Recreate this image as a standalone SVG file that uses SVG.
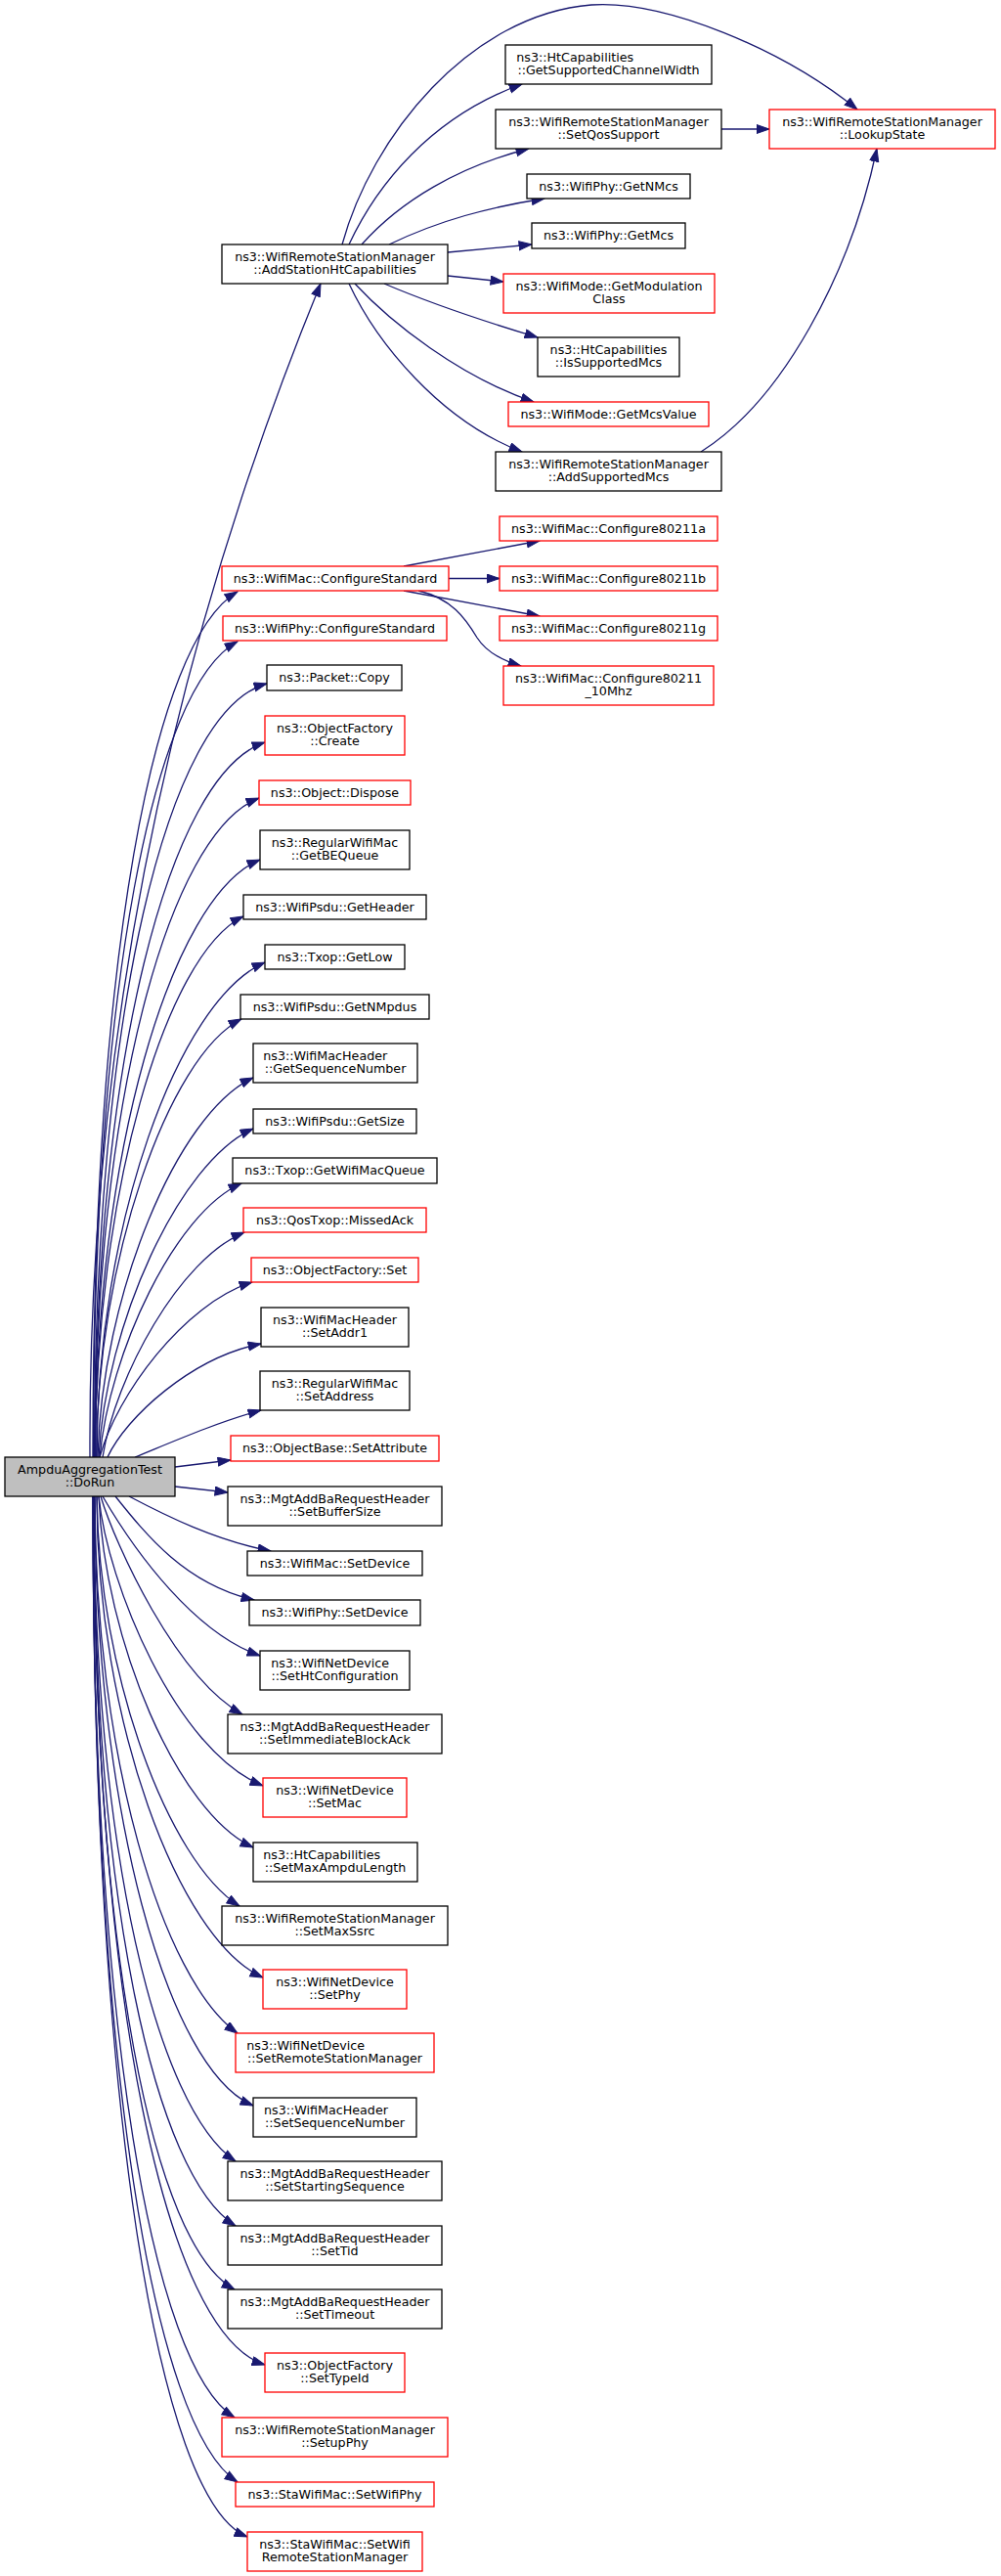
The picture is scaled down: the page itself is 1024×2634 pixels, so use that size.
<svg xmlns="http://www.w3.org/2000/svg" width="1024" height="2634" viewBox="0 0 1024 2634">
<defs>
<style>
.n rect{fill:#fff;stroke:#000;stroke-width:1.3}
.r rect{stroke:#ff0000}
.root rect{fill:#bfbfbf;stroke:#000}
text{font-family:"DejaVu Sans","Liberation Sans",sans-serif;font-size:12.7px;text-anchor:middle;fill:#000}
text.l{text-anchor:start}
#edges path{fill:none;stroke:#191970;stroke-width:1.3;marker-end:url(#ah)}
</style>
<marker id="ah" markerUnits="userSpaceOnUse" markerWidth="15" markerHeight="11" viewBox="0 0 15 11" refX="13.5" refY="5" orient="auto">
<path d="M0.5,0.5 L13.5,5 L0.5,9.5 Z" fill="#191970" stroke="#191970" stroke-width="1"/>
</marker>
</defs>
<rect x="0" y="0" width="1024" height="2634" fill="#fff"/>
<g id="edges">
<path d="M350,250 C380,140 480,15 605,5 C680,0 800,50 877,112"/>
<path d="M357,250 C385,190 440,120 534,86"/>
<path d="M370,250 C410,205 470,170 541,152"/>
<path d="M398,250 C450,225 500,212 557,203"/>
<path d="M458,258 L544,250"/>
<path d="M458,282 L515,288"/>
<path d="M393,290 C440,310 500,330 550,345"/>
<path d="M363,290 C400,330 470,385 546,411"/>
<path d="M357,290 C385,350 450,430 534,462"/>
<path d="M738,132 L787,132"/>
<path d="M717,462 C800,410 870,280 897,152"/>
<path d="M413,579 L552,553"/>
<path d="M459,591.5 L511,591.5"/>
<path d="M413,604 L552,630"/>
<path d="M428,604 C462,612 476,632 488,652 C497,666 512,675 533,681"/>
<path d="M92,1490 C90,1100 160,700 328,290"/>
<path d="M95,1490 C95,977 157,655 243,605"/>
<path d="M95.5,1490 C95.5,1006 157.5,702 243,656"/>
<path d="M96.5,1490 C96.5,1034 171,727 273,699"/>
<path d="M97,1490 C97,1085 173,792 271,759"/>
<path d="M97,1490 C97,1131 172,852 265,816"/>
<path d="M97.5,1490 C97.5,1180 175,917 266,879"/>
<path d="M97.5,1490 C97.5,1222 169,976 249,937"/>
<path d="M99,1490 C99,1254 182,1023 271,984"/>
<path d="M98.6,1490 C98.6,1291 172,1080 247,1042"/>
<path d="M100,1490 C104,1326 181,1138 259,1102"/>
<path d="M101,1490 C108,1355 183,1188 259,1154"/>
<path d="M102,1490 C112,1383 179,1240 247,1210"/>
<path d="M105,1490 C118,1407 184,1287 250,1260"/>
<path d="M102,1490 C119,1427 188,1333 258,1311"/>
<path d="M110,1490 C129,1449 196,1388 267,1374"/>
<path d="M138,1490 C175,1475 220,1455 267,1442"/>
<path d="M179,1500 L236,1493"/>
<path d="M179,1520 L233,1526"/>
<path d="M132,1530 C170,1550 220,1575 277,1586"/>
<path d="M118,1530 C150,1570 190,1620 260,1636"/>
<path d="M105,1530 C140,1590 200,1670 266,1693"/>
<path d="M103,1530 C118,1580 180,1715 248,1753"/>
<path d="M101,1530 C110,1620 180,1790 269,1826"/>
<path d="M101,1530 C107,1678 182,1854 259,1889"/>
<path d="M99,1530 C101,1712 172,1903 245,1949"/>
<path d="M99,1530 C99,1757 182,1983 269,2022"/>
<path d="M97,1530 C97,1796 166,2024 243,2079"/>
<path d="M97,1530 C97,1849 171,2116 259,2153"/>
<path d="M96,1530 C96,1893 161,2156 241,2210"/>
<path d="M96,1530 C96,1947 159,2225 241,2276"/>
<path d="M96,1530 C96,2000 157,2296 240,2341"/>
<path d="M96,1530 C96,2045 170,2387 271,2418"/>
<path d="M95,1530 C95,2076 156,2419 240,2472"/>
<path d="M95,1530 C95,2115 157,2482 243,2538"/>
<path d="M95,1530 C95,2147 161,2557 253,2594"/>
</g>
<g id="n_root" class="n root"><rect x="5" y="1490" width="174" height="40"/><text x="92" y="1506.8">AmpduAggregationTest</text><text x="92" y="1520.3">::DoRun</text></g>
<g id="n_addstation" class="n"><rect x="227" y="250" width="231" height="40"/><text x="342.5" y="266.8">ns3::WifiRemoteStationManager</text><text x="342.5" y="280.3">::AddStationHtCapabilities</text></g>
<g id="n_getsupchw" class="n"><rect x="517" y="46" width="211" height="40"/><text class="l" x="528.3" y="62.8">ns3::HtCapabilities</text><text x="622.5" y="76.3">::GetSupportedChannelWidth</text></g>
<g id="n_setqos" class="n"><rect x="507" y="112" width="231" height="40"/><text x="622.5" y="128.8">ns3::WifiRemoteStationManager</text><text x="622.5" y="142.3">::SetQosSupport</text></g>
<g id="n_lookup" class="n r"><rect x="787" y="112" width="231" height="40"/><text x="902.5" y="128.8">ns3::WifiRemoteStationManager</text><text x="902.5" y="142.3">::LookupState</text></g>
<g id="n_getnmcs" class="n"><rect x="539" y="178" width="167" height="25"/><text x="622.5" y="194.8">ns3::WifiPhy::GetNMcs</text></g>
<g id="n_getmcs" class="n"><rect x="544" y="228" width="157" height="26"/><text x="622.5" y="245.3">ns3::WifiPhy::GetMcs</text></g>
<g id="n_getmod" class="n r"><rect x="515" y="280" width="216" height="40"/><text x="623" y="296.8">ns3::WifiMode::GetModulation</text><text x="623" y="310.3">Class</text></g>
<g id="n_issupmcs" class="n"><rect x="550" y="345" width="145" height="40"/><text x="622.5" y="361.8">ns3::HtCapabilities</text><text x="622.5" y="375.3">::IsSupportedMcs</text></g>
<g id="n_getmcsval" class="n r"><rect x="520" y="411" width="205" height="25"/><text x="622.5" y="427.8">ns3::WifiMode::GetMcsValue</text></g>
<g id="n_addsupmcs" class="n"><rect x="507" y="462" width="231" height="40"/><text x="622.5" y="478.8">ns3::WifiRemoteStationManager</text><text x="622.5" y="492.3">::AddSupportedMcs</text></g>
<g id="n_c11a" class="n r"><rect x="511" y="528" width="223" height="25"/><text x="622.5" y="544.8">ns3::WifiMac::Configure80211a</text></g>
<g id="n_c11b" class="n r"><rect x="511" y="579" width="223" height="25"/><text x="622.5" y="595.8">ns3::WifiMac::Configure80211b</text></g>
<g id="n_c11g" class="n r"><rect x="511" y="630" width="223" height="25"/><text x="622.5" y="646.8">ns3::WifiMac::Configure80211g</text></g>
<g id="n_c10mhz" class="n r"><rect x="515" y="681" width="215" height="40"/><text x="622.5" y="697.8">ns3::WifiMac::Configure80211</text><text x="622.5" y="711.3">_10Mhz</text></g>
<g id="n_macconf" class="n r"><rect x="227" y="579" width="232" height="25"/><text x="343" y="595.8">ns3::WifiMac::ConfigureStandard</text></g>
<g id="n_phyconf" class="n r"><rect x="228" y="630" width="229" height="25"/><text x="342.5" y="646.8">ns3::WifiPhy::ConfigureStandard</text></g>
<g id="n_copy" class="n"><rect x="273" y="680" width="138" height="26"/><text x="342" y="697.3">ns3::Packet::Copy</text></g>
<g id="n_create" class="n r"><rect x="271" y="732" width="143" height="40"/><text x="342.5" y="748.8">ns3::ObjectFactory</text><text x="342.5" y="762.3">::Create</text></g>
<g id="n_dispose" class="n r"><rect x="265" y="798" width="155" height="25"/><text x="342.5" y="814.8">ns3::Object::Dispose</text></g>
<g id="n_getbe" class="n"><rect x="266" y="849" width="153" height="40"/><text x="342.5" y="865.8">ns3::RegularWifiMac</text><text x="342.5" y="879.3">::GetBEQueue</text></g>
<g id="n_getheader" class="n"><rect x="249" y="915" width="187" height="25"/><text x="342.5" y="931.8">ns3::WifiPsdu::GetHeader</text></g>
<g id="n_getlow" class="n"><rect x="271" y="966" width="143" height="25"/><text x="342.5" y="982.8">ns3::Txop::GetLow</text></g>
<g id="n_getnmpdus" class="n"><rect x="246" y="1017" width="193" height="25"/><text x="342.5" y="1033.8">ns3::WifiPsdu::GetNMpdus</text></g>
<g id="n_getseq" class="n"><rect x="259" y="1067" width="168" height="40"/><text class="l" x="269.3" y="1083.8">ns3::WifiMacHeader</text><text x="343" y="1097.3">::GetSequenceNumber</text></g>
<g id="n_getsize" class="n"><rect x="259" y="1134" width="167" height="25"/><text x="342.5" y="1150.8">ns3::WifiPsdu::GetSize</text></g>
<g id="n_getqueue" class="n"><rect x="238" y="1184" width="209" height="26"/><text x="342.5" y="1201.3">ns3::Txop::GetWifiMacQueue</text></g>
<g id="n_missedack" class="n r"><rect x="249" y="1235" width="187" height="25"/><text x="342.5" y="1251.8">ns3::QosTxop::MissedAck</text></g>
<g id="n_ofset" class="n r"><rect x="257" y="1286" width="171" height="25"/><text x="342.5" y="1302.8">ns3::ObjectFactory::Set</text></g>
<g id="n_setaddr1" class="n"><rect x="267" y="1337" width="151" height="40"/><text x="342.5" y="1353.8">ns3::WifiMacHeader</text><text x="342.5" y="1367.3">::SetAddr1</text></g>
<g id="n_setaddress" class="n"><rect x="266" y="1402" width="153" height="40"/><text x="342.5" y="1418.8">ns3::RegularWifiMac</text><text x="342.5" y="1432.3">::SetAddress</text></g>
<g id="n_setattr" class="n r"><rect x="236" y="1468" width="213" height="26"/><text x="342.5" y="1485.3">ns3::ObjectBase::SetAttribute</text></g>
<g id="n_setbuf" class="n"><rect x="233" y="1520" width="219" height="40"/><text x="342.5" y="1536.8">ns3::MgtAddBaRequestHeader</text><text x="342.5" y="1550.3">::SetBufferSize</text></g>
<g id="n_macsetdev" class="n"><rect x="253" y="1586" width="179" height="25"/><text x="342.5" y="1602.8">ns3::WifiMac::SetDevice</text></g>
<g id="n_physetdev" class="n"><rect x="255" y="1636" width="175" height="26"/><text x="342.5" y="1653.3">ns3::WifiPhy::SetDevice</text></g>
<g id="n_setht" class="n"><rect x="266" y="1688" width="153" height="40"/><text class="l" x="277.3" y="1704.8">ns3::WifiNetDevice</text><text x="342.5" y="1718.3">::SetHtConfiguration</text></g>
<g id="n_setimm" class="n"><rect x="233" y="1753" width="219" height="40"/><text x="342.5" y="1769.8">ns3::MgtAddBaRequestHeader</text><text x="342.5" y="1783.3">::SetImmediateBlockAck</text></g>
<g id="n_setmac" class="n r"><rect x="269" y="1818" width="147" height="40"/><text x="342.5" y="1834.8">ns3::WifiNetDevice</text><text x="342.5" y="1848.3">::SetMac</text></g>
<g id="n_setampdu" class="n"><rect x="259" y="1884" width="168" height="40"/><text class="l" x="269.3" y="1900.8">ns3::HtCapabilities</text><text x="343" y="1914.3">::SetMaxAmpduLength</text></g>
<g id="n_setssrc" class="n"><rect x="227" y="1949" width="231" height="40"/><text x="342.5" y="1965.8">ns3::WifiRemoteStationManager</text><text x="342.5" y="1979.3">::SetMaxSsrc</text></g>
<g id="n_setphy" class="n r"><rect x="269" y="2014" width="147" height="40"/><text x="342.5" y="2030.8">ns3::WifiNetDevice</text><text x="342.5" y="2044.3">::SetPhy</text></g>
<g id="n_setrsm" class="n r"><rect x="241" y="2079" width="203" height="40"/><text class="l" x="252.3" y="2095.8">ns3::WifiNetDevice</text><text x="342.5" y="2109.3">::SetRemoteStationManager</text></g>
<g id="n_setseq" class="n"><rect x="259" y="2145" width="167" height="40"/><text class="l" x="270" y="2161.8">ns3::WifiMacHeader</text><text x="342.5" y="2175.3">::SetSequenceNumber</text></g>
<g id="n_setstart" class="n"><rect x="233" y="2210" width="219" height="40"/><text x="342.5" y="2226.8">ns3::MgtAddBaRequestHeader</text><text x="342.5" y="2240.3">::SetStartingSequence</text></g>
<g id="n_settid" class="n"><rect x="233" y="2276" width="219" height="40"/><text x="342.5" y="2292.8">ns3::MgtAddBaRequestHeader</text><text x="342.5" y="2306.3">::SetTid</text></g>
<g id="n_settimeout" class="n"><rect x="233" y="2341" width="219" height="40"/><text x="342.5" y="2357.8">ns3::MgtAddBaRequestHeader</text><text x="342.5" y="2371.3">::SetTimeout</text></g>
<g id="n_settypeid" class="n r"><rect x="271" y="2406" width="143" height="40"/><text x="342.5" y="2422.8">ns3::ObjectFactory</text><text x="342.5" y="2436.3">::SetTypeId</text></g>
<g id="n_setupphy" class="n r"><rect x="227" y="2472" width="231" height="40"/><text x="342.5" y="2488.8">ns3::WifiRemoteStationManager</text><text x="342.5" y="2502.3">::SetupPhy</text></g>
<g id="n_setwifiphy" class="n r"><rect x="241" y="2538" width="203" height="25"/><text x="342.5" y="2554.8">ns3::StaWifiMac::SetWifiPhy</text></g>
<g id="n_setwifirsm" class="n r"><rect x="253" y="2589" width="179" height="40"/><text x="342.5" y="2605.8">ns3::StaWifiMac::SetWifi</text><text x="342.5" y="2619.3">RemoteStationManager</text></g>
</svg>
